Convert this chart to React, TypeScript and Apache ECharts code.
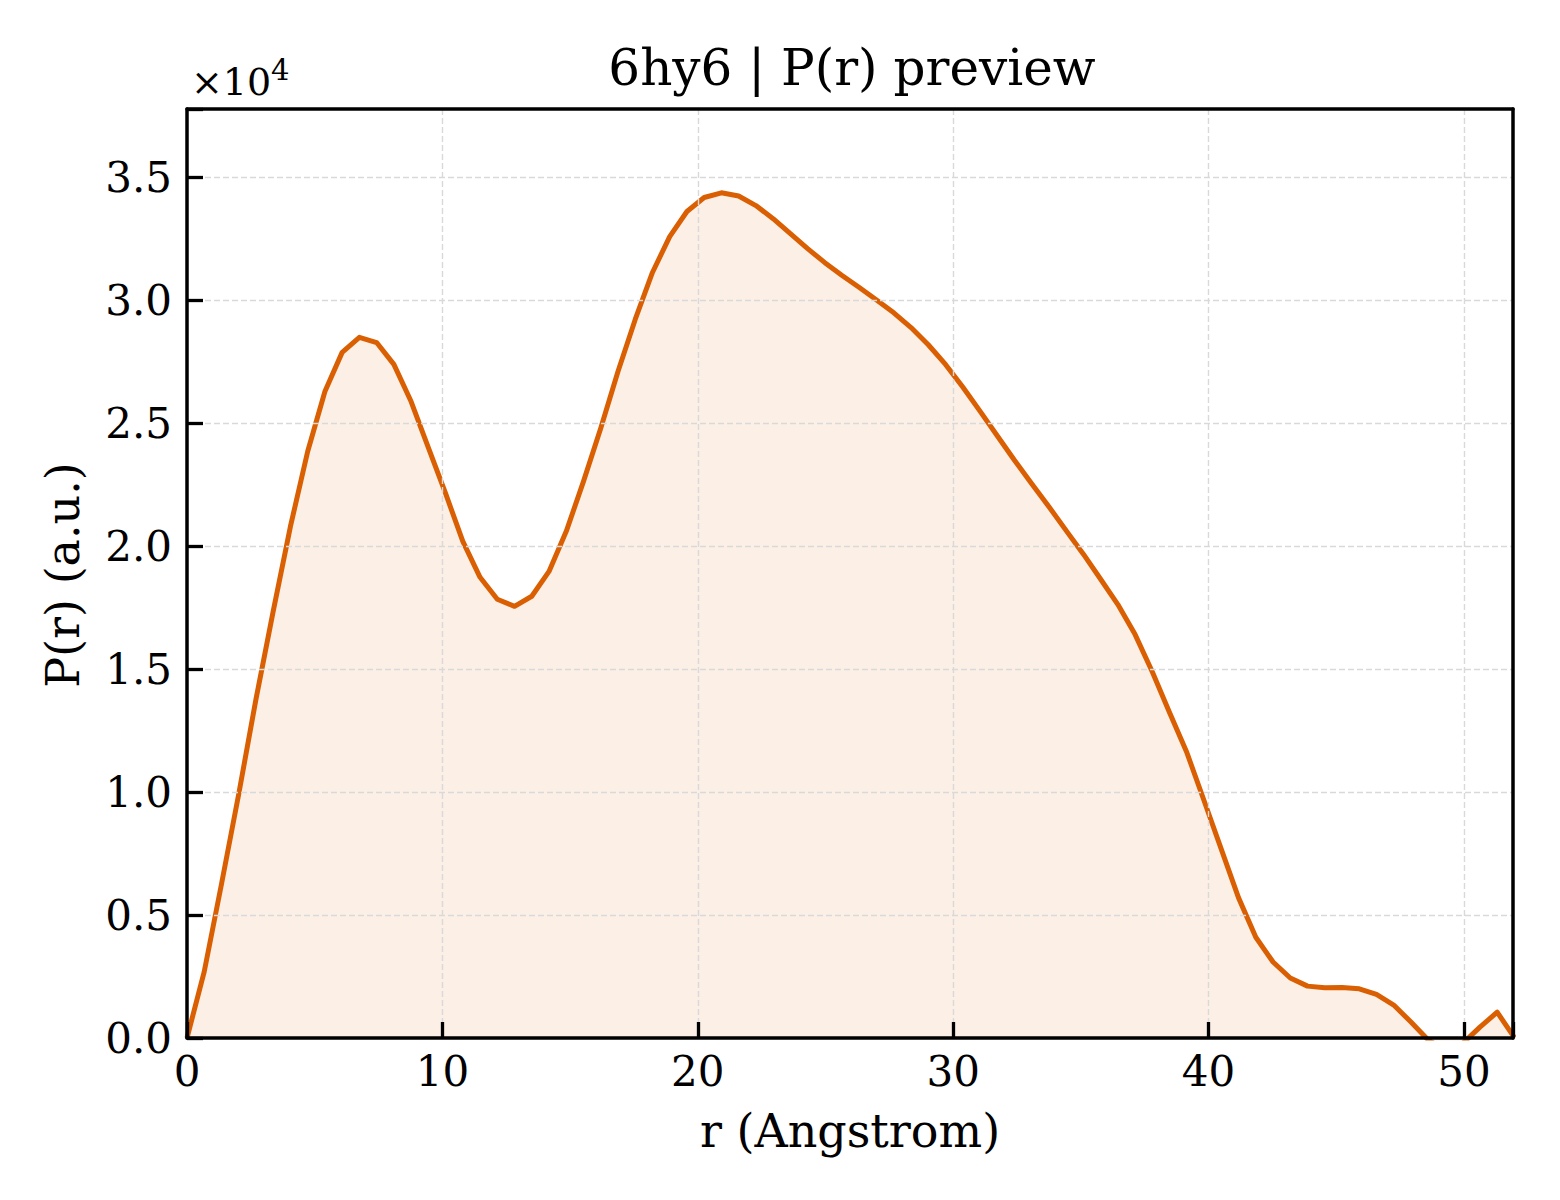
/** P(r) preview: one distance distribution, shaded under the curve. */
import * as echarts from "echarts";
import { useEffect, useRef } from "react";

// r grid in Angstrom, as sampled
const rValues = [
  0, 0.675, 1.35, 2.025, 2.7, 3.375, 4.05, 4.725, 5.4, 6.075,
  6.75, 7.425, 8.1, 8.775, 9.45, 10.125, 10.8, 11.475, 12.15, 12.825,
  13.5, 14.175, 14.85, 15.525, 16.2, 16.875, 17.55, 18.225, 18.9, 19.575,
  20.25, 20.925, 21.6, 22.275, 22.95, 23.625, 24.3, 24.975, 25.65, 26.325,
  27, 27.675, 28.35, 29.025, 29.7, 30.375, 31.05, 31.725, 32.4, 33.075,
  33.75, 34.425, 35.1, 35.775, 36.45, 37.125, 37.8, 38.475, 39.15, 39.825,
  40.5, 41.175, 41.85, 42.525, 43.2, 43.875, 44.55, 45.225, 45.9, 46.575,
  47.25, 47.925, 48.6, 49.275, 49.95, 50.625, 51.3, 51.975,
];

// P(r), arbitrary units (the axis shows them in units of 1e4)
const prValues = [
  0, 2700, 6260, 9920, 13780, 17360, 20810, 23860, 26300, 27890,
  28500, 28290, 27400, 25890, 24020, 22150, 20200, 18740, 17850, 17560,
  17970, 18980, 20610, 22640, 24800, 27110, 29230, 31140, 32600, 33620,
  34190, 34380, 34250, 33860, 33330, 32720, 32110, 31540, 31020, 30530,
  30020, 29500, 28900, 28200, 27400, 26480, 25500, 24500, 23500, 22550,
  21610, 20640, 19680, 18660, 17630, 16410, 14890, 13230, 11610, 9650,
  7670, 5700, 4100, 3090, 2440, 2110, 2040, 2050, 2000, 1770,
  1340, 650, -80, -500, -220, 440, 1050, 20,
];

const xTicks = [0, 10, 20, 30, 40, 50];
const yTicks = [0, 5000, 10000, 15000, 20000, 25000, 30000, 35000];

const FONT = "DejaVu Serif";
const LINE = "#d95f02";
const X_MAX = 51.92;
const Y_MAX = 37790;

export default function App() {
  const box = useRef<HTMLDivElement>(null);

  useEffect(() => {
    if (!box.current) return;
    document.body.style.margin = "0";
    const c = echarts.init(box.current, undefined, { renderer: "svg" });

    const frame = { show: true, onZero: false, lineStyle: { color: "#000", width: 3.5 } };
    const ticks = { show: true, inside: true, length: 16, lineStyle: { color: "#000", width: 3.3 } };
    const grid = {
      show: true,
      showMinLine: false,
      showMaxLine: false,
      lineStyle: { color: "#d9d9d9", width: 1.4, type: [6, 3] },
    };
    const label = { color: "#000", fontFamily: FONT, fontSize: 42 };
    // top and right edges of the box: only a line, nothing else
    const bare = {
      axisLine: frame,
      axisTick: { show: false },
      axisLabel: { show: false },
      splitLine: { show: false },
    };

    c.setOption({
      animation: false,
      backgroundColor: "#fff",
      grid: { left: 187, top: 109, right: 47, bottom: 162 },
      xAxis: [
        {
          type: "value",
          min: 0,
          max: X_MAX,
          interval: 10,
          position: "bottom",
          axisLine: frame,
          axisTick: ticks,
          splitLine: grid,
          axisLabel: { ...label, margin: 12, formatter: (v: number) => (xTicks.includes(v) ? String(v) : "") },
          z: 5,
        },
        { type: "value", min: 0, max: X_MAX, position: "top", ...bare, z: 5 },
      ],
      yAxis: [
        {
          type: "value",
          min: 0,
          max: Y_MAX,
          interval: 5000,
          position: "left",
          axisLine: frame,
          axisTick: ticks,
          splitLine: grid,
          axisLabel: {
            ...label,
            margin: 15,
            formatter: (v: number) => (yTicks.includes(v) ? (v / 10000).toFixed(1) : ""),
          },
          z: 5,
        },
        { type: "value", min: 0, max: Y_MAX, position: "right", ...bare, z: 5 },
      ],
      series: [
        {
          type: "line",
          data: rValues.map((r, i) => [r, prValues[i]]),
          showSymbol: false,
          clip: true,
          lineStyle: { color: LINE, width: 5, join: "round" },
          areaStyle: { color: "rgba(217,95,2,0.14)" },
          z: 3,
        },
      ],
      graphic: [
        {
          type: "text",
          x: 852,
          y: 68,
          style: { text: "6hy6 | P(r) preview", fill: "#000", font: `50px "${FONT}"`, align: "center", verticalAlign: "middle" },
        },
        {
          type: "text",
          x: 850,
          y: 1131,
          style: { text: "r (Angstrom)", fill: "#000", font: `46px "${FONT}"`, align: "center", verticalAlign: "middle" },
        },
        {
          type: "text",
          x: 63,
          y: 575,
          rotation: Math.PI / 2,
          style: { text: "P(r) (a.u.)", fill: "#000", font: `46px "${FONT}"`, align: "center", verticalAlign: "middle" },
        },
        {
          type: "text",
          x: 191,
          y: 81.5,
          style: { text: "×10", fill: "#000", font: `38px "${FONT}"`, align: "left", verticalAlign: "middle" },
        },
        {
          type: "text",
          x: 271,
          y: 70,
          style: { text: "4", fill: "#000", font: `29px "${FONT}"`, align: "left", verticalAlign: "middle" },
        },
      ],
    });

    return () => c.dispose();
  }, []);

  return (
    <div
      ref={box}
      style={{ position: "absolute", left: 0, top: 0, width: 1560, height: 1200 }}
      role="img"
      aria-label="6hy6 P(r) preview"
    />
  );
}
